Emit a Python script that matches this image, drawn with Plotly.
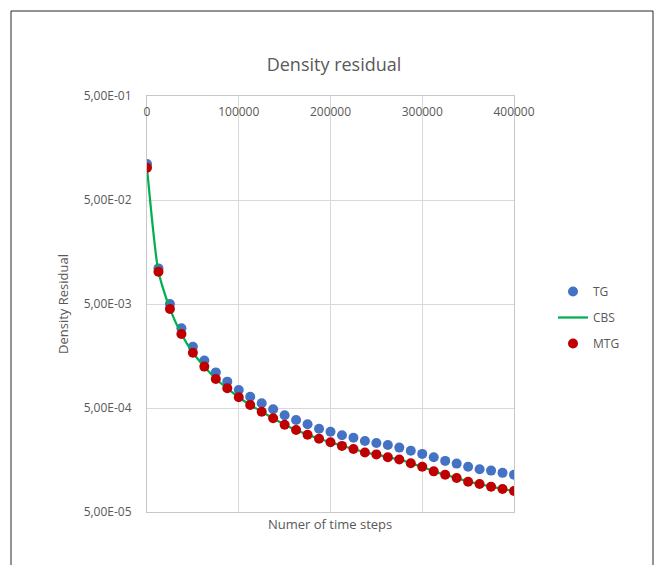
import plotly.graph_objects as go

steps = [i * 12500 for i in range(33)]

tg = [0.111, 0.0110, 0.00500, 0.00292, 0.00194, 0.00143, 0.00110, 0.000896, 0.000745,
      0.000642, 0.000555, 0.000486, 0.000426, 0.000383, 0.000349, 0.000316, 0.000296,
      0.000273, 0.000259, 0.000241, 0.000230, 0.000220, 0.000208, 0.000194, 0.000181,
      0.000168, 0.000155, 0.000146, 0.000136, 0.000129, 0.000125, 0.000119, 0.000114]

mtg = [0.102, 0.0102, 0.00448, 0.00257, 0.00170, 0.00125, 0.000951, 0.000773, 0.000634,
       0.000535, 0.000461, 0.000398, 0.000345, 0.000307, 0.000277, 0.000253, 0.000234,
       0.000216, 0.000202, 0.000187, 0.000179, 0.000168, 0.000160, 0.000147, 0.000136,
       0.000123, 0.000114, 0.000106, 0.0000978, 0.0000929, 0.0000875, 0.0000832, 0.0000796]

cbs = [0.102, 0.0102, 0.00448, 0.00257, 0.00170, 0.00125, 0.000951, 0.000773, 0.000634,
       0.000535, 0.000461, 0.000398, 0.000345, 0.000307, 0.000277, 0.000253, 0.000234,
       0.000216, 0.000202, 0.000187, 0.000179, 0.000168, 0.000160, 0.000147, 0.000136,
       0.000123, 0.000114, 0.000106, 0.0000978, 0.0000929, 0.0000875, 0.0000832, 0.0000796]

x_ticks = [0, 100000, 200000, 300000, 400000]
y_ticks = [5e-5, 5e-4, 5e-3, 5e-2, 5e-1]
y_tick_text = ["5,00E-05", "5,00E-04", "5,00E-03", "5,00E-02", "5,00E-01"]

FONT = "Open Sans"
GREY = "#595959"
GRID = "#d9d9d9"

W, H = 656, 565
L, R, T, B = 147, 142, 96, 53
PW, PH = W - L - R, H - T - B


def px_x(p):
    return (p - L) / PW


def px_y(p):
    return (H - B - p) / PH


fig = go.Figure()
fig.add_trace(go.Scatter(x=steps, y=tg, mode="markers", name="TG",
                         marker=dict(color="#4472C4", size=10), legendgroup="a"))
fig.add_trace(go.Scatter(x=steps, y=cbs, mode="lines", name="CBS",
                         line=dict(color="#00B050", width=2.25, shape="spline", smoothing=0.6),
                         legendgroup="b"))
fig.add_trace(go.Scatter(x=steps, y=mtg, mode="markers", name="MTG", xaxis="x2",
                         marker=dict(color="#C00000", size=10), legendgroup="c"))

fig.update_layout(
    width=W, height=H,
    margin=dict(l=L, r=R, t=T, b=B, pad=0),
    paper_bgcolor="white", plot_bgcolor="white",
    font=dict(family=FONT, color=GREY, size=12),
    title=dict(text="Density residual", x=334 / W, xanchor="center",
               y=1 - 65 / H, yanchor="middle",
               font=dict(family=FONT, size=18, color=GREY)),
    xaxis=dict(range=[0, 400000], side="top", tickvals=x_ticks, showticklabels=False,
               showgrid=True, gridcolor=GRID, gridwidth=1,
               showline=True, linecolor="#c8c8c8", linewidth=1, zeroline=False,
               mirror=True, ticks=""),
    xaxis2=dict(range=[0, 400000], overlaying="x", anchor="free", position=px_y(103),
                side="bottom", tickvals=x_ticks, ticktext=[str(v) for v in x_ticks],
                showgrid=False, showline=False, zeroline=False, ticks="",
                tickfont=dict(family=FONT, size=12, color=GREY)),
    yaxis=dict(type="log", range=[-4.30103, -0.30103], tickvals=y_ticks, ticktext=y_tick_text,
               showgrid=True, gridcolor=GRID, gridwidth=1,
               showline=True, linecolor="#c8c8c8", linewidth=1, zeroline=False,
               mirror=True, ticks="", ticklabelstandoff=12,
               tickfont=dict(family=FONT, size=12, color=GREY)),
    legend=dict(x=px_x(553), y=px_y(277), xanchor="left", yanchor="top",
                font=dict(family=FONT, size=12, color=GREY),
                tracegroupgap=7, traceorder="grouped", bgcolor="rgba(0,0,0,0)"),
    showlegend=True,
    annotations=[
        dict(text="Numer of time steps", x=px_x(330), y=px_y(524), xref="paper", yref="paper",
             xanchor="center", yanchor="middle", showarrow=False,
             font=dict(family=FONT, size=13, color=GREY)),
        dict(text="Density Residual", x=px_x(63), y=px_y(304), xref="paper", yref="paper",
             xanchor="center", yanchor="middle", showarrow=False, textangle=-90,
             font=dict(family=FONT, size=13, color=GREY)),
    ],
    shapes=[
        dict(type="rect", xref="paper", yref="paper",
             x0=px_x(11), x1=px_x(653), y0=px_y(575), y1=px_y(11),
             line=dict(color="#262626", width=1), fillcolor="rgba(0,0,0,0)", layer="below"),
    ],
)

fig.write_html("out.html", config={"displayModeBar": False},
               post_script="document.body.style.margin='0px';")
